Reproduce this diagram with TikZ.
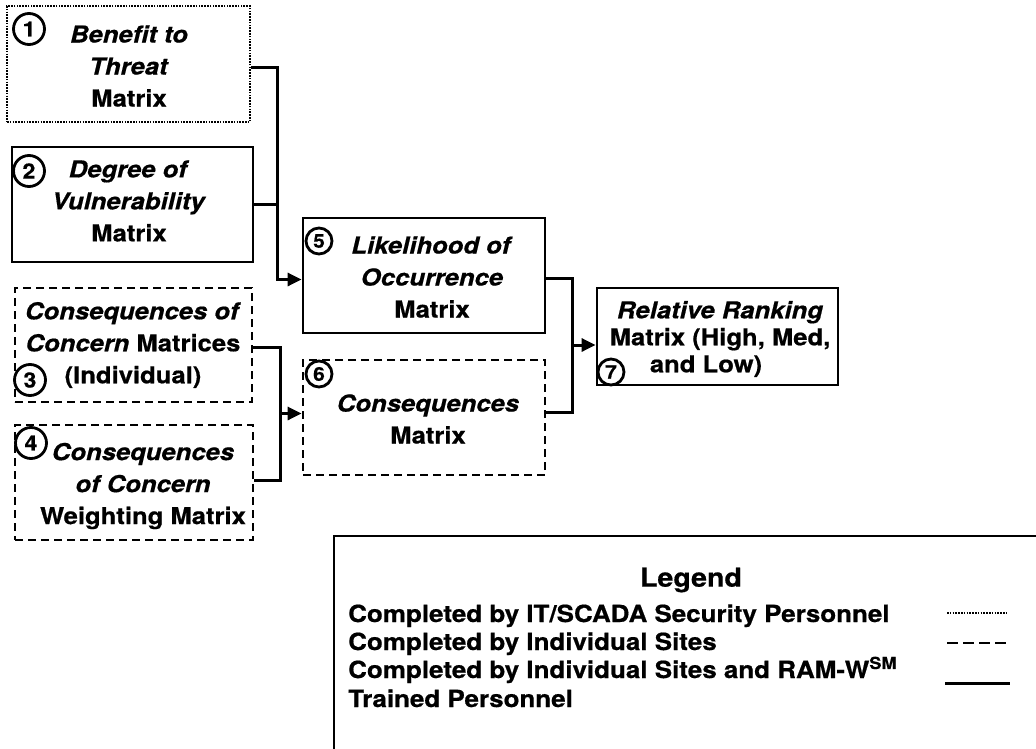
\documentclass[tikz,border=0pt]{standalone}
\usepackage{fontspec}
\setmainfont{TeX Gyre Heros}[FakeStretch=1.1,FakeBold=0.6]
\usetikzlibrary{arrows.meta,calc}
\begin{document}
\begin{tikzpicture}[x=1pt,y=-1pt,
  box/.style={draw, line width=2.8pt, rectangle, inner sep=0pt},
  solidbox/.style={box},
  dotbox/.style={box, dash pattern=on 1.6pt off 1.2pt},
  dashbox/.style={box, dash pattern=on 8pt off 5pt},
  txt/.style={font=\bfseries\fontsize{23.3}{32}\selectfont, align=center, inner sep=0pt},
  num/.style={draw, circle, fill=white, line width=2.8pt, minimum size=31pt, inner sep=0pt, font=\bfseries\fontsize{21}{21}\selectfont},
  snum/.style={num, minimum size=26pt, font=\bfseries\fontsize{19}{19}\selectfont},
  conn/.style={line width=3pt},
  arr/.style={conn, -{Triangle[length=14pt,width=13pt]}},
  lt/.style={font=\bfseries\fontsize{23.6}{28}\selectfont, inner sep=0pt, anchor=base west},
]
\useasboundingbox (0,0) rectangle (1036,749);
\fill[white] (0,0) rectangle (1036,749);

% boxes
\node[dotbox, minimum width=243pt, minimum height=116pt] (b1) at (128.5,64) {};
\node[solidbox, minimum width=241pt, minimum height=115pt] (b2) at (132.5,204.5) {};
\node[dashbox, minimum width=237pt, minimum height=114pt] (b3) at (133.5,345) {};
\node[dashbox, minimum width=238pt, minimum height=115pt] (b4) at (134,482.5) {};
\node[solidbox, minimum width=242pt, minimum height=115pt] (b5) at (424,275.5) {};
\node[dashbox, minimum width=242pt, minimum height=115pt] (b6) at (424,417.5) {};
\node[solidbox, minimum width=241pt, minimum height=97pt] (b7) at (717.5,336.5) {};

% texts
\node[txt] (t1) at (129,66) {\textit{Benefit to}\\\textit{Threat}\\Matrix};
\node[txt] (t2) at (129,201) {\textit{Degree of}\\\textit{Vulnerability}\\Matrix};
\node[txt] (t3) at (133,345) {\textit{Consequences of}\\\textit{Concern} Matrices\\(Individual)};
\node[txt] (t4) at (143,486) {\textit{Consequences}\\\textit{of Concern}\\Weighting Matrix};
\node[txt] (t5) at (432,277) {\textit{Likelihood of}\\\textit{Occurrence}\\Matrix};
\node[txt] (t6) at (428,419) {\textit{Consequences}\\Matrix};
\node[txt, font=\bfseries\fontsize{23.3}{27}\selectfont] (t7) at (720,339) {\textit{Relative Ranking}\\Matrix (High, Med,\\and Low)\hspace*{28pt}};

% numbers
\node[num] (n1) at (29,29) {1};
\node[num] (n2) at (29,171) {2};
\node[num] (n3) at (30,380) {3};
\node[num] (n4) at (31,443) {4};
\node[snum] (n5) at (319,241) {5};
\node[snum] (n6) at (319,374) {6};
\node[snum] (n7) at (611,372) {7};

% connectors
\coordinate (jA) at (277,0);
\coordinate (jB) at (280,0);
\coordinate (jC) at (572,0);
\coordinate (p1) at ([yshift=-4pt]b1.east);
\coordinate (p5) at ([yshift=-4pt]b5.west);
\draw[arr] (p1) -| (jA |- p5) -- (p5);
\draw[conn] (b2.east) -- (b2.east -| jA);
\coordinate (p3) at ([yshift=-2pt]b3.east);
\coordinate (p6) at ([yshift=4pt]b6.west);
\draw[arr] (p3) -| (jB |- p6) -- (p6);
\coordinate (p4) at ([yshift=2.5pt]b4.east);
\draw[conn] (p4) -| (jB |- p6);
\coordinate (q5) at ([yshift=-2.5pt]b5.east);
\coordinate (q6) at ([yshift=5.5pt]b6.east);
\draw[conn] (q5) -| (jC |- q6) -- (q6);
\coordinate (m) at ($(jC |- q5)!0.5!(jC |- q6)$);
\draw[arr] (m) -- (m -| b7.west);

% legend
\node[draw, line width=2.4pt, minimum width=730pt, minimum height=240pt, anchor=north west, inner sep=0pt] (lg) at (333,535) {};
\node[font=\bfseries\fontsize{26}{26}\selectfont, inner sep=0pt] (lgt) at (691,580) {Legend};
\node[lt] (l1) at (348,622) {Completed by IT/SCADA Security Personnel};
\node[lt] (l2) at (348,650) {Completed by Individual Sites};
\node[lt] (l3) at (348,678) {Completed by Individual Sites and RAM-W\textsuperscript{SM}};
\node[lt] (l4) at (348,707) {Trained Personnel};
\coordinate (d1a) at (947,613); \coordinate (d1b) at (1008,613);
\coordinate (d2a) at (947,643); \coordinate (d2b) at (1008,643);
\coordinate (d3a) at (945,683); \coordinate (d3b) at (1010,683);
\draw[line width=2.4pt, dash pattern=on 1.6pt off 1.2pt] (d1a) -- (d1b);
\draw[line width=2.6pt, dash pattern=on 11pt off 5pt] (d2a) -- (d2b);
\draw[line width=3pt] (d3a) -- (d3b);
\end{tikzpicture}
\end{document}
